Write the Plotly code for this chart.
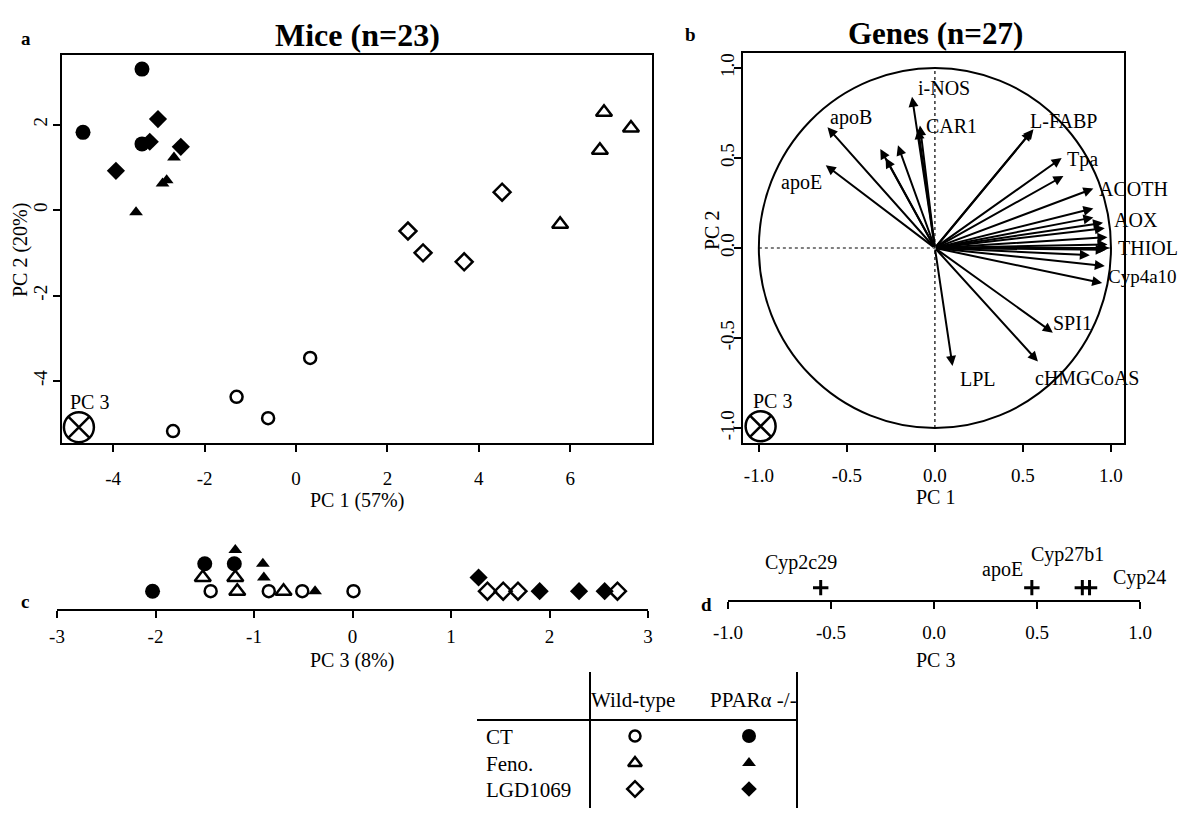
import plotly.graph_objects as go

W, H = 1186, 816           # reference canvas (pixels)
OFF = 8                    # page body margin
WF, HF = W - 2 * OFF, H - 2 * OFF   # figure size
FONT = "Liberation Serif, Times New Roman, serif"

# ---------------- data ----------------
groups = ["CT", "Feno.", "LGD1069"]
genotypes = ["Wild-type", "PPARα -/-"]

# Panel a: mice scores on PC1 / PC2
wt_ct_pc1 = [0.31, -1.30, -0.61, -2.69]
wt_ct_pc2 = [-3.46, -4.37, -4.87, -5.17]
ko_ct_pc1 = [-4.66, -3.37, -3.37]
ko_ct_pc2 = [1.82, 3.30, 1.55]
wt_feno_pc1 = [6.74, 7.33, 6.65, 5.78]
wt_feno_pc2 = [2.29, 1.92, 1.40, -0.33]
ko_feno_pc1 = [-2.67, -2.83, -2.92, -3.50]
ko_feno_pc2 = [1.23, 0.70, 0.62, -0.05]
wt_lgd_pc1 = [4.51, 2.45, 2.78, 3.68]
wt_lgd_pc2 = [0.42, -0.49, -1.00, -1.21]
ko_lgd_pc1 = [-3.02, -3.20, -2.52, -3.94]
ko_lgd_pc2 = [2.13, 1.60, 1.48, 0.92]

# Panel c: mice scores on PC3
wt_ct_pc3 = [-1.44, -0.85, -0.51, 0.01]
wt_feno_pc3 = [-1.52, -1.17, -1.19, -0.70]
ko_ct_pc3 = [-2.03, -1.50, -1.20]
ko_feno_pc3 = [-1.19, -0.90, -0.91, -0.38]
wt_lgd_pc3 = [1.37, 1.53, 1.68, 2.69]
ko_lgd_pc3 = [1.28, 1.90, 2.30, 2.56]

# Panel b: gene loadings on PC1 / PC2
gene_names = ["i-NOS", "CAR1", "apoB", "apoE", "L-FABP", "Tpa", "ACOTH", "AOX",
              "THIOL", "Cyp4a10", "SPI1", "cHMGCoAS", "LPL",
              "", "", "", "", "", "", "", "", "", "", "", "", "", ""]
gene_pc1 = [-0.13, -0.085, -0.61, -0.62, 0.55, 0.72, 0.90, 0.955,
            0.98, 0.95, 0.67, 0.585, 0.10,
            -0.31, -0.28, -0.21, -0.095, 0.56, 0.73, 0.90, 0.90, 0.965, 0.98,
            0.99, 0.97, 0.88, 0.965]
gene_pc2 = [0.84, 0.68, 0.67, 0.46, 0.65, 0.50, 0.33, 0.14,
            0.02, -0.195, -0.47, -0.63, -0.655,
            0.55, 0.50, 0.57, 0.66, 0.66, 0.40, 0.22, 0.17, 0.11, 0.06,
            0.00, -0.01, -0.04, -0.10]

# Panel d: gene loadings on PC3
pc3_gene_names = ["Cyp2c29", "apoE", "Cyp27b1", "Cyp24"]
pc3_gene_vals = [-0.55, 0.475, 0.72, 0.755]

x_ticks_a = [-4, -2, 0, 2, 4, 6]
y_ticks_a = [-4, -2, 0, 2]
ticks_b = [-1.0, -0.5, 0.0, 0.5, 1.0]
x_ticks_c = [-3, -2, -1, 0, 1, 2, 3]

# ---------------- styles ----------------
label_style = {  # (xshift px, yshift px, xanchor)
    "i-NOS": (4, 9, "left"), "CAR1": (4, 0, "left"), "apoB": (0, 10, "left"),
    "apoE": (-2, -17, "right"), "L-FABP": (-4, 10, "left"), "Tpa": (3, -2, "left"),
    "ACOTH": (4, 0, "left"), "AOX": (9, 3, "left"), "THIOL": (9, -4, "left"),
    "Cyp4a10": (4, 7, "left"), "SPI1": (-2, 10, "left"),
    "cHMGCoAS": (-5, -17, "left"), "LPL": (5, -13, "left"),
}
d_label_style = {
    "Cyp2c29": (-20, 25, "center"), "apoE": (-7, 18, "right"),
    "Cyp27b1": (-15, 33, "center"), "Cyp24": (21, 10, "left"),
}

series = [
    # name, pc1, pc2, pc3, symbol, size
    ("wt_ct", wt_ct_pc1, wt_ct_pc2, wt_ct_pc3, "circle-open", 12),
    ("wt_feno", wt_feno_pc1, wt_feno_pc2, wt_feno_pc3, "triangle-up-open", 14),
    ("ko_ct", ko_ct_pc1, ko_ct_pc2, ko_ct_pc3, "circle", 15),
    ("ko_feno", ko_feno_pc1, ko_feno_pc2, ko_feno_pc3, "triangle-up", 12),
    ("wt_lgd", wt_lgd_pc1, wt_lgd_pc2, wt_lgd_pc3, "diamond-open", 13),
    ("ko_lgd", ko_lgd_pc1, ko_lgd_pc2, ko_lgd_pc3, "diamond", 14),
]


def px(p):
    return (p - OFF) / WF


def py(p):
    return 1 - (p - OFF) / HF


def mk(sym, sz):
    return dict(symbol=sym, size=sz, color="black",
                line=dict(color="black", width=2.5 if "open" in sym else 0))


fig = go.Figure()

# ---- panel a ----
for name, p1, p2, p3, sym, sz in series:
    fig.add_trace(go.Scatter(x=p1, y=p2, mode="markers", xaxis="x", yaxis="y",
                             marker=mk(sym, sz), showlegend=False, hoverinfo="skip"))

# PC3 symbols
pc3sym = dict(symbol="circle-x-open", size=30, color="black",
              line=dict(width=2.5, color="black"))
fig.add_trace(go.Scatter(x=[-4.75], y=[-5.08], mode="markers", xaxis="x", yaxis="y",
                         marker=pc3sym, showlegend=False, hoverinfo="skip"))
fig.add_trace(go.Scatter(x=[-0.99], y=[-0.99], mode="markers", xaxis="x2", yaxis="y2",
                         marker=pc3sym, showlegend=False, hoverinfo="skip"))

# ---- panel c (stacked strip) ----
thr = 0.12
seen = []
for name, p1, p2, p3, sym, sz in series:
    ys = []
    for v in p3:
        lvl = sum(1 for s in seen if abs(s - v) < thr)
        seen.append(v)
        ys.append(1.3 + lvl)
    fig.add_trace(go.Scatter(x=p3, y=ys, mode="markers", xaxis="x3", yaxis="y3",
                             marker=mk(sym, sz), showlegend=False, hoverinfo="skip"))

# ---- panel d ----
fig.add_trace(go.Scatter(
    x=pc3_gene_vals, y=[0.9] * len(pc3_gene_vals), mode="markers",
    xaxis="x4", yaxis="y4",
    marker=dict(symbol="cross-thin", size=11, color="black",
                line=dict(color="black", width=3)),
    showlegend=False, hoverinfo="skip"))

# ---- legend table markers (pixel axis) ----
tab_col_x = [635, 749]
tab_row_y = [736, 763, 789]
tab_syms = [("circle-open", "circle"), ("triangle-up-open", "triangle-up"),
            ("diamond-open", "diamond")]
tab_sizes = [(11, 14), (12, 12), (12, 12)]
for r, (so, sf) in enumerate(tab_syms):
    for c, sym in enumerate((so, sf)):
        fig.add_trace(go.Scatter(x=[tab_col_x[c]], y=[tab_row_y[r]], mode="markers",
                                 xaxis="x5", yaxis="y5", marker=mk(sym, tab_sizes[r][c]),
                                 showlegend=False, hoverinfo="skip"))

annotations = []
shapes = []

# gene arrows
for nm, gx, gy in zip(gene_names, gene_pc1, gene_pc2):
    annotations.append(dict(
        x=gx, y=gy, ax=0, ay=0, xref="x2", yref="y2", axref="x2", ayref="y2",
        text="", showarrow=True, arrowhead=2, arrowsize=1, arrowwidth=2,
        arrowcolor="black", standoff=0))
for nm, gx, gy in zip(gene_names, gene_pc1, gene_pc2):
    if nm:
        xs, ys, xa = label_style[nm]
        annotations.append(dict(
            x=gx, y=gy, xref="x2", yref="y2", text=nm, showarrow=False,
            xanchor=xa, yanchor="middle", xshift=xs, yshift=ys,
            font=dict(family=FONT, size=20 if nm != "Cyp4a10" else 19, color="black")))

for nm, v in zip(pc3_gene_names, pc3_gene_vals):
    xs, ys, xa = d_label_style[nm]
    annotations.append(dict(
        x=v, y=0.9, xref="x4", yref="y4", text=nm, showarrow=False,
        xanchor=xa, yanchor="middle", xshift=xs, yshift=ys,
        font=dict(family=FONT, size=20, color="black")))

# PC 3 labels near symbols
annotations.append(dict(x=-4.75, y=-5.08, xref="x", yref="y", text="PC 3",
                        showarrow=False, xshift=11, yshift=25,
                        font=dict(family=FONT, size=20, color="black")))
annotations.append(dict(x=-0.99, y=-0.99, xref="x2", yref="y2", text="PC 3",
                        showarrow=False, xshift=12, yshift=25,
                        font=dict(family=FONT, size=20, color="black")))


def txt(t, x, y, size=20, bold=False, angle=0, xanchor="center"):
    annotations.append(dict(
        x=px(x), y=py(y), xref="paper", yref="paper",
        text=f"<b>{t}</b>" if bold else t, showarrow=False, textangle=angle,
        xanchor=xanchor, yanchor="middle",
        font=dict(family=FONT, size=size, color="black")))


txt("Mice (n=23)", 357, 35, size=32, bold=True)
txt("Genes (n=27)", 935, 33, size=31, bold=True)
txt("a", 26, 39, size=19, bold=True)
txt("b", 690, 35, size=19, bold=True)
txt("c", 25, 601, size=19, bold=True)
txt("d", 706, 604, size=19, bold=True)
txt("PC 1 (57%)", 357, 500)
txt("PC 2 (20%)", 20, 250, angle=-90)
txt("PC 1", 935, 497)
txt("PC 2", 712, 231, angle=-90)
txt("PC 3 (8%)", 352, 660)
txt("PC 3", 935, 660)

# table text
txt("Wild-type", 633, 700, size=21)
txt("PPARα -/-", 753, 700, size=21)
for g, yy in zip(groups, tab_row_y):
    txt(g, 484, yy + 1, size=21, xanchor="left")

# table lines
for x0, y0, x1, y1 in [(590, 672, 590, 816), (797, 672, 797, 816), (477, 720, 797, 720)]:
    shapes.append(dict(type="line", xref="paper", yref="paper",
                       x0=px(x0), y0=py(y0), x1=px(x1), y1=py(y1),
                       line=dict(color="black", width=2)))

# correlation circle + dotted axes
shapes.append(dict(type="circle", xref="x2", yref="y2", x0=-1, y0=-1, x1=1, y1=1,
                   line=dict(color="black", width=2), layer="below"))
shapes.append(dict(type="line", xref="x2", yref="y2", x0=-1, y0=0, x1=1, y1=0,
                   line=dict(color="black", width=1.2, dash="dot"), layer="below"))
shapes.append(dict(type="line", xref="x2", yref="y2", x0=0, y0=-1, x1=0, y1=1,
                   line=dict(color="black", width=1.2, dash="dot"), layer="below"))

tickfont = dict(family=FONT, size=19, color="black")
common = dict(showline=True, linecolor="black", linewidth=2,
              ticks="outside", ticklen=7, tickwidth=2, tickcolor="black",
              showgrid=False, zeroline=False, tickfont=tickfont, automargin=False)
hidden = dict(visible=False, showgrid=False, zeroline=False, automargin=False)


def lab(v, fmt):
    return (fmt % v).replace("−", "-")


fig.update_layout(
    template="none",
    width=WF, height=HF, margin=dict(l=0, r=0, t=0, b=0, pad=0),
    paper_bgcolor="white", plot_bgcolor="rgba(0,0,0,0)", showlegend=False,
    font=dict(family=FONT, color="black"),
    xaxis=dict(domain=[px(62), px(652)], range=[-5.12, 7.79], anchor="y", mirror=True,
               tickvals=x_ticks_a, ticktext=[lab(v, "%d") for v in x_ticks_a],
               ticklabelstandoff=10, **common),
    yaxis=dict(domain=[py(443), py(55)], range=[-5.45, 3.63], anchor="x", mirror=True,
               tickvals=y_ticks_a, ticktext=[lab(v, "%d") for v in y_ticks_a],
               tickangle=-90, ticklabelstandoff=-2, **common),
    xaxis2=dict(domain=[px(743), px(1124)], range=[-1.09, 1.074], anchor="y2", mirror=True,
                tickvals=ticks_b, ticktext=[lab(v, "%.1f") for v in ticks_b],
                ticklabelstandoff=7, **common),
    yaxis2=dict(domain=[py(443), py(53)], range=[-1.083, 1.083], anchor="x2", mirror=True,
                tickvals=ticks_b, ticktext=[lab(v, "%.1f") for v in ticks_b],
                tickangle=-90, ticklabelstandoff=-8, **common),
    xaxis3=dict(domain=[px(57), px(648)], range=[-3, 3], anchor="y3",
                tickvals=x_ticks_c, ticktext=[lab(v, "%d") for v in x_ticks_c],
                ticklabelstandoff=2, **common),
    yaxis3=dict(domain=[py(609), py(530)], range=[0, 79 / 13.7], anchor="x3", **hidden),
    xaxis4=dict(domain=[px(728), px(1140)], range=[-1, 1], anchor="y4",
                tickvals=ticks_b, ticktext=[lab(v, "%.1f") for v in ticks_b],
                ticklabelstandoff=7, **common),
    yaxis4=dict(domain=[py(600), py(530)], range=[0, 70 / 13.7], anchor="x4", **hidden),
    xaxis5=dict(domain=[0, 1], range=[OFF, OFF + WF], anchor="y5", **hidden),
    yaxis5=dict(domain=[0, 1], range=[OFF + HF, OFF], anchor="x5", **hidden),
    annotations=annotations, shapes=shapes,
)

fig.write_html("out.html")
